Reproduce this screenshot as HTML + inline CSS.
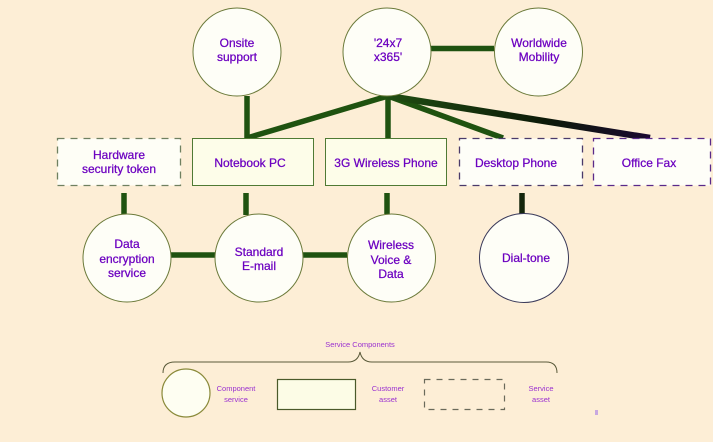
<!DOCTYPE html>
<html><head><meta charset="utf-8"><style>
html,body{margin:0;padding:0;background:#fdeed6;}
svg{display:block;}
text{font-family:"Liberation Sans",sans-serif;fill:#6c00c0;}
</style></head><body>
<svg width="713" height="442" viewBox="0 0 713 442" xmlns="http://www.w3.org/2000/svg">
<defs>
<linearGradient id="fx" x1="388" y1="96" x2="650" y2="138" gradientUnits="userSpaceOnUse">
<stop offset="0" stop-color="#1f4d12"/><stop offset="0.6" stop-color="#0d1a08"/><stop offset="1" stop-color="#1a0830"/>
</linearGradient>
</defs>
<rect width="713" height="442" fill="#fdeed6"/>
<!-- connectors -->
<g stroke="#1f5210" stroke-width="5.5" fill="none" stroke-linecap="butt">
<line x1="247" y1="96" x2="247" y2="139"/>
<line x1="431" y1="48.5" x2="494" y2="48.5"/>
<line x1="388" y1="96" x2="247" y2="138"/>
<line x1="388" y1="96" x2="388" y2="139"/>
<line x1="388" y1="96" x2="503" y2="138"/>
<line x1="124" y1="193" x2="124" y2="214"/>
<line x1="246" y1="193" x2="246" y2="215"/>
<line x1="387" y1="193" x2="387" y2="214"/>
<line x1="171" y1="255" x2="215" y2="255"/>
<line x1="303" y1="255" x2="347" y2="255"/>
</g>
<line x1="388" y1="96" x2="650" y2="138" stroke="url(#fx)" stroke-width="6.5"/>
<line x1="522" y1="193" x2="522" y2="214" stroke="#14260c" stroke-width="5.5"/>
<!-- circles -->
<g fill="#fefef7" stroke="#6b7a3a" stroke-width="1">
<circle cx="237" cy="52" r="44"/>
<circle cx="387" cy="52" r="44"/>
<circle cx="538.5" cy="52" r="44"/>
<circle cx="127" cy="258" r="44"/>
<circle cx="259" cy="258" r="44"/>
<circle cx="391.5" cy="258" r="44"/>
<circle cx="524" cy="258" r="44.5" stroke="#3a3a5a"/>
</g>
<!-- boxes -->
<rect x="192.5" y="138.5" width="121" height="47" fill="#fdfde9" stroke="#4f7a34" stroke-width="1"/>
<rect x="325.5" y="138.5" width="121" height="47" fill="#fdfde9" stroke="#4f7a34" stroke-width="1"/>
<rect x="57.5" y="138.5" width="123" height="47" fill="#fefef6" stroke="#6f8060" stroke-width="1.3" stroke-dasharray="7,6"/>
<rect x="459.5" y="138.5" width="123" height="47" fill="#fefef8" stroke="#4a3a6a" stroke-width="1.3" stroke-dasharray="7,6"/>
<rect x="593.5" y="138.5" width="117" height="47" fill="#fefef8" stroke="#5a2a8a" stroke-width="1.3" stroke-dasharray="7,6"/>
<!-- labels -->
<g font-size="12" text-anchor="middle" stroke="#6c00c0" stroke-width="0.25">
<text x="237" y="47">Onsite</text><text x="237" y="61">support</text>
<text x="388" y="47">'24x7</text><text x="388" y="61">x365'</text>
<text x="539" y="47">Worldwide</text><text x="539" y="61">Mobility</text>
<text x="119" y="159">Hardware</text><text x="119" y="173">security token</text>
<text x="250" y="167">Notebook PC</text>
<text x="386" y="167">3G Wireless Phone</text>
<text x="516" y="167">Desktop Phone</text>
<text x="649" y="167">Office Fax</text>
<text x="127" y="248">Data</text><text x="127" y="263">encryption</text><text x="127" y="277">service</text>
<text x="259" y="256">Standard</text><text x="259" y="270">E-mail</text>
<text x="391" y="249">Wireless</text><text x="391" y="264">Voice &amp;</text><text x="391" y="278">Data</text>
<text x="526" y="262">Dial-tone</text>
</g>
<!-- legend -->
<path d="M163,373 Q163,362 175,362 L348,362 Q358,362 360,352 Q362,362 372,362 L546,362 Q557,362 557,373" fill="none" stroke="#5a5a3a" stroke-width="1"/>
<g font-size="7.5" text-anchor="middle" style="fill:#9a30d0">
<text x="360" y="347" style="fill:#9a30d0">Service Components</text>
<text x="236" y="391" style="fill:#9a30d0">Component</text><text x="236" y="402" style="fill:#9a30d0">service</text>
<text x="388" y="391" style="fill:#9a30d0">Customer</text><text x="388" y="402" style="fill:#9a30d0">asset</text>
<text x="541" y="391" style="fill:#9a30d0">Service</text><text x="541" y="402" style="fill:#9a30d0">asset</text>
</g>
<circle cx="186" cy="393" r="24" fill="#fefef2" stroke="#8a8a3a" stroke-width="1.2"/>
<rect x="277.5" y="379.5" width="78" height="30" fill="#fcfce6" stroke="#4a5a2a" stroke-width="1.2"/>
<rect x="424.5" y="379.5" width="80" height="30" fill="#fdeed6" stroke="#6a6a5a" stroke-width="1.2" stroke-dasharray="6,6"/>
<rect x="595" y="410" width="3" height="5" fill="#c8a8e0"/>
</svg>
</body></html>
